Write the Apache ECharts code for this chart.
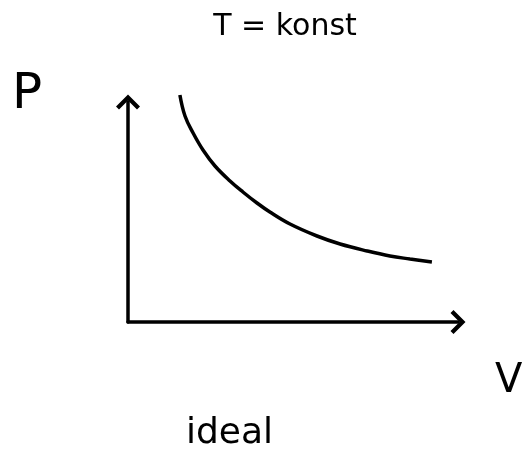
<!DOCTYPE html>
<html>
<head>
<meta charset="utf-8">
<script src="https://cdn.jsdelivr.net/npm/echarts@6/dist/echarts.min.js"></script>
<style>
  html, body { margin: 0; padding: 0; background: #fff; }
  #chart { width: 529px; height: 470px; }
</style>
</head>
<body>
<div id="chart"></div>
<script>
// Isotherm of an ideal gas: pressure falls as volume grows at constant temperature
const volume   = [1.73, 1.9, 2.17, 2.5, 2.9, 3.4, 3.83, 4.3, 4.73, 5.4, 6.3, 7.07, 7.97, 8.73, 9.4, 10.13];
const pressure = [11.35, 10.3, 9.45, 8.6, 7.8, 7.05, 6.5, 5.95, 5.5, 4.9, 4.3, 3.9, 3.55, 3.3, 3.15, 3.0];

const titleText = 'T = konst';
const xName = 'V';
const yName = 'P';
const caption = 'ideal';

const ink = '#000';
const handFont = 'DejaVu Sans';
// open chevron used as the arrow head at the end of each axis
const chevron = 'path://M0,10 L10,0 L20,10 L17.5,12.5 L10,5 L2.5,12.5 Z';

const axisBase = {
  type: 'value',
  min: 0,
  max: 11,
  axisLine: {
    show: true,
    symbol: ['none', chevron],
    symbolSize: [24, 18],
    lineStyle: { color: ink, width: 3.5, cap: 'round' }
  },
  axisTick: { show: false },
  axisLabel: { show: false },
  splitLine: { show: false }
};

const chart = echarts.init(document.getElementById('chart'), null, { renderer: 'canvas' });
chart.setOption({
  backgroundColor: '#fff',
  animation: false,
  title: {
    text: titleText,
    left: 280,
    top: 7,
    textAlign: 'center',
    textStyle: { fontFamily: handFont, fontSize: 30, fontWeight: 'normal', color: ink }
  },
  grid: { left: 128, right: 71, top: 102, bottom: 148 },
  xAxis: Object.assign({}, axisBase),
  yAxis: Object.assign({}, axisBase),
  graphic: [
    { type: 'text', left: 12, top: 70,
      style: { text: yName, font: '50px "DejaVu Sans"', fill: ink } },
    { type: 'text', left: 495, top: 362,
      style: { text: xName, font: '40px "DejaVu Sans"', fill: ink } },
    { type: 'text', left: 186, top: 416,
      style: { text: caption, font: '36px "DejaVu Sans"', fill: ink } }
  ],
  series: [{
    type: 'line',
    data: volume.map((v, i) => [v, pressure[i]]),
    smooth: 0.4,
    showSymbol: false,
    clip: false,
    lineStyle: { color: ink, width: 3.5 }
  }]
});
</script>
</body>
</html>
